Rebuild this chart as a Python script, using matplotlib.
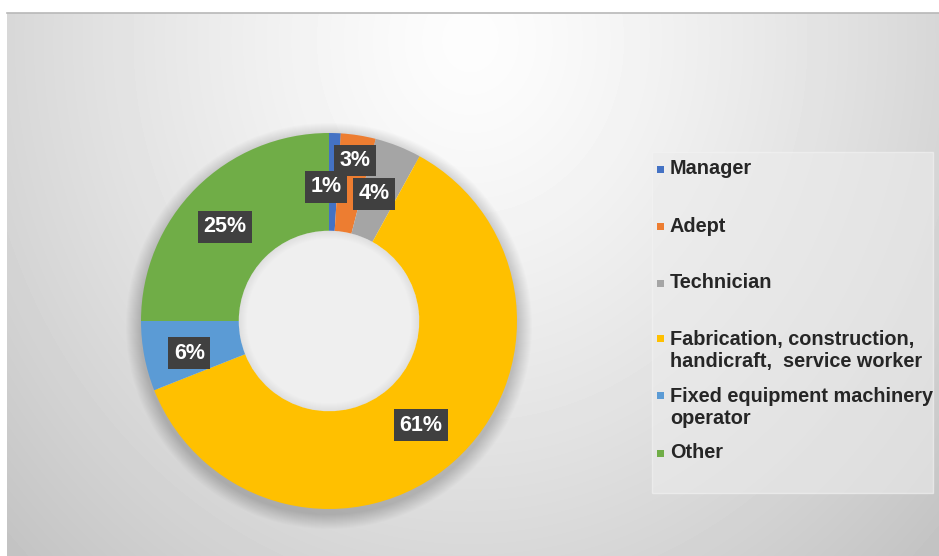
import matplotlib.pyplot as plt
import numpy as np
from matplotlib.patches import Rectangle, Wedge, Circle

plt.rcParams['font.family'] = ['Liberation Sans', 'DejaVu Sans']

# occupational groups and their share (%)
categories = ['Manager', 'Adept', 'Technician',
              'Fabrication, construction,\nhandicraft,  service worker',
              'Fixed equipment machinery\noperator', 'Other']
shares = [1, 3, 4, 61, 6, 25]
colors = ['#4472C4', '#ED7D31', '#A5A5A5', '#FFC000', '#5B9BD5', '#70AD47']

W, H = 939, 556
fig = plt.figure(figsize=(W / 100, H / 100), dpi=100)
fig.patch.set_facecolor('white')
ax = fig.add_axes([0, 0, 1, 1])

# soft grey backdrop, lightest near the top middle
top, left = 13, 7
rows, cols = np.mgrid[0:H - top, 0:W - left]
px = cols + left
py = rows + top
d = np.hypot((px - 470) / 620, (py - 40) / 700)
shade = np.clip(253 - 55 * d ** 1.3, 0, 255) / 255
ax.imshow(shade, cmap='gray', vmin=0, vmax=1, extent=(left, W, 0, H - top),
          origin='upper', interpolation='bilinear', zorder=0)
ax.plot([left, W], [H - top, H - top], color='#b8b8b8', lw=1.2, zorder=1)

# donut
cx, cy, R = 329, H - 321, 188
ring = 0.52
r_in = R * (1 - ring)

# blurred shadow under the ring
for k in range(1, 16):
    ax.add_patch(Wedge((cx, cy - 5), R + k, 0, 360, width=k + 6,
                       facecolor='black', alpha=0.013, lw=0, zorder=1))

# lighter hole with a faint inner rim
ax.add_patch(Circle((cx, cy), r_in, facecolor='#efefef', lw=0, zorder=1))
for k in range(1, 9):
    ax.add_patch(Wedge((cx, cy), r_in, 0, 360, width=k,
                       facecolor='black', alpha=0.008, lw=0, zorder=1))

ax.pie(shares, colors=colors, radius=R, center=(cx, cy), startangle=90,
       counterclock=False, frame=True,
       wedgeprops=dict(width=R * ring, linewidth=0, zorder=2))

# percentage labels sit mid-ring, small slices nudged apart
nudge = {0: (-7, -5), 1: (4, 23), 2: (-6, -2), 4: (-3, -6), 5: (-6, -4)}
r_mid = R * (1 - ring / 2)
start = 0.0
for i, v in enumerate(shares):
    mid = start + v / 2
    theta = np.deg2rad(90 - mid * 3.6)
    x = cx + r_mid * np.cos(theta)
    y = cy + r_mid * np.sin(theta)
    dx, dy = nudge.get(i, (0, 0))
    ax.text(x + dx, y + dy, f'{v}%', ha='center', va='center', color='white',
            fontsize=15.5, fontweight='bold', zorder=5,
            bbox=dict(boxstyle='square,pad=0.25', fc='#404040', ec='none'))
    start += v

# legend panel
ax.add_patch(Rectangle((652, H - 493), 281, 341, facecolor='#ececec',
                       edgecolor='#f4f4f4', lw=1, alpha=0.6, zorder=2))
legend_rows = [169, 226, 283, 350, 407, 453]
line_px = 23
for name, c, yc in zip(categories, colors, legend_rows):
    n = name.count('\n') + 1
    ym = yc - (n - 1) * line_px / 2
    ax.add_patch(Rectangle((657, H - ym - 3.5), 7, 7, facecolor=c, lw=0, zorder=3))
    ax.text(670, H - yc, name, ha='left', va='center', fontsize=14.3,
            fontweight='bold', color='#262626', linespacing=1.2, zorder=3)

ax.set_xlim(0, W)
ax.set_ylim(0, H)
ax.set_aspect('auto')
ax.axis('off')

fig.savefig('out.png', dpi=100, facecolor=fig.get_facecolor())
